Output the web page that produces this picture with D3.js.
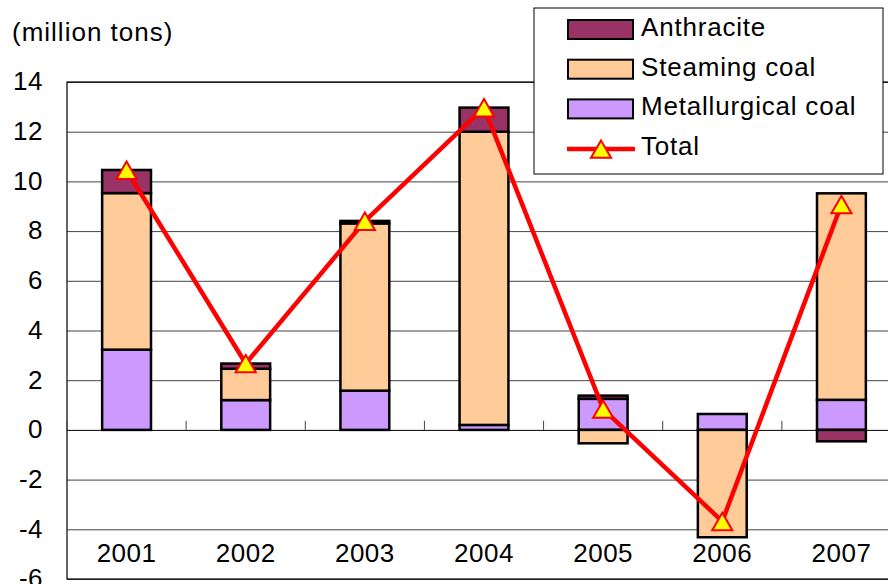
<!DOCTYPE html>
<html>
<head>
<meta charset="utf-8">
<script src="https://cdn.jsdelivr.net/npm/d3@7"></script>
<style>
  body { margin: 0; background: #fff; }
  text { font-family: Arial, "Liberation Sans", sans-serif; }
</style>
</head>
<body>
<div id="chart"></div>
<script>
var years = ["2001", "2002", "2003", "2004", "2005", "2006", "2007"];
var anthracite = [0.93, 0.21, 0.1, 0.97, 0.13, 0, -0.46];
var steaming = [6.3, 1.26, 6.73, 11.8, -0.54, -4.32, 8.31];
var metallurgical = [3.23, 1.2, 1.58, 0.2, 1.25, 0.64, 1.21];
var total = [10.45, 2.67, 8.4, 12.97, 0.84, -3.68, 9.07];
var yTicks = [-6, -4, -2, 0, 2, 4, 6, 8, 10, 12, 14];

var keys = ["Metallurgical coal", "Steaming coal", "Anthracite"];
var colors = {
    "Anthracite": "#993366",
    "Steaming coal": "#FFCC99",
    "Metallurgical coal": "#CC99FF"
};

var width = 888, height = 584;
var plotLeft = 67, plotRight = 901, plotTop = 82, plotBottom = 579;

var svg = d3.select("#chart")
    .append("svg")
    .attr("width", width)
    .attr("height", height);

var x = d3.scaleBand()
    .domain(years)
    .range([plotLeft, plotRight])
    .paddingInner(0.59)
    .paddingOuter(0.295);

var y = d3.scaleLinear()
    .domain([-6, 14])
    .range([plotBottom, plotTop]);

// table for the stack
var rows = years.map(function(yr, i) {
    return {
        year: yr,
        "Anthracite": anthracite[i],
        "Steaming coal": steaming[i],
        "Metallurgical coal": metallurgical[i]
    };
});

var series = d3.stack()
    .keys(keys)
    .offset(d3.stackOffsetDiverging)(rows);

// y axis with grid lines
var yAxis = svg.append("g")
    .attr("transform", "translate(" + plotLeft + ",0)")
    .call(d3.axisLeft(y)
        .tickValues(yTicks)
        .tickFormat(function(d) { return String(d); })
        .tickSize(-(plotRight - plotLeft))
        .tickPadding(24));

yAxis.select(".domain").remove();
yAxis.selectAll(".tick line")
    .attr("stroke", function(d) { return d === 0 ? "#000" : "#444"; })
    .attr("stroke-width", 1);
yAxis.selectAll(".tick text")
    .attr("font-size", 26)
    .attr("letter-spacing", 0.5)
    .attr("fill", "#000")
    .attr("dy", "0.3em");

// plot border
svg.append("rect")
    .attr("x", plotLeft)
    .attr("y", plotTop)
    .attr("width", plotRight - plotLeft)
    .attr("height", plotBottom - plotTop)
    .attr("fill", "none")
    .attr("stroke", "#000")
    .attr("stroke-width", 1.2);

// category tick marks on the zero line
svg.append("g")
    .selectAll("line")
    .data(years)
    .enter()
    .append("line")
    .attr("x1", function(d) { return x(d) + x.bandwidth() / 2 - x.step() / 2; })
    .attr("x2", function(d) { return x(d) + x.bandwidth() / 2 - x.step() / 2; })
    .attr("y1", y(0))
    .attr("y2", y(0) - 9)
    .attr("stroke", "#444");

// stacked bars
svg.append("g")
    .selectAll("g")
    .data(series)
    .enter()
    .append("g")
    .attr("fill", function(d) { return colors[d.key]; })
    .selectAll("rect")
    .data(function(d) { return d; })
    .enter()
    .append("rect")
    .attr("x", function(d) { return x(d.data.year); })
    .attr("y", function(d) { return y(Math.max(d[0], d[1])); })
    .attr("width", x.bandwidth())
    .attr("height", function(d) { return Math.abs(y(d[0]) - y(d[1])); })
    .attr("stroke", "#000")
    .attr("stroke-width", 2.5);

// total line
var line = d3.line()
    .x(function(d, i) { return x(years[i]) + x.bandwidth() / 2; })
    .y(function(d) { return y(d); });

svg.append("path")
    .datum(total)
    .attr("d", line)
    .attr("fill", "none")
    .attr("stroke", "#FF0000")
    .attr("stroke-width", 4.5)
    .attr("stroke-linejoin", "round");

var tri = d3.symbol().type(d3.symbolTriangle).size(175);

svg.append("g")
    .selectAll("path")
    .data(total)
    .enter()
    .append("path")
    .attr("d", tri)
    .attr("transform", function(d, i) {
        return "translate(" + (x(years[i]) + x.bandwidth() / 2) + "," + (y(d) + 3) + ")";
    })
    .attr("fill", "#FFFF00")
    .attr("stroke", "#FF0000")
    .attr("stroke-width", 2);

// year labels
svg.append("g")
    .selectAll("text")
    .data(years)
    .enter()
    .append("text")
    .attr("x", function(d) { return x(d) + x.bandwidth() / 2; })
    .attr("y", 562)
    .attr("text-anchor", "middle")
    .attr("font-size", 26)
    .attr("letter-spacing", 0.5)
    .text(function(d) { return d; });

// unit label
svg.append("text")
    .attr("x", 12)
    .attr("y", 41)
    .attr("font-size", 26)
    .attr("letter-spacing", 1)
    .text("(million tons)");

// legend
var legend = svg.append("g");

legend.append("rect")
    .attr("x", 534)
    .attr("y", 8)
    .attr("width", 349)
    .attr("height", 166)
    .attr("fill", "#fff")
    .attr("stroke", "#000")
    .attr("stroke-width", 1);

var legendKeys = ["Anthracite", "Steaming coal", "Metallurgical coal"];

legendKeys.forEach(function(k, i) {
    legend.append("rect")
        .attr("x", 568)
        .attr("y", 20 + i * 39.7)
        .attr("width", 65)
        .attr("height", 19)
        .attr("fill", colors[k])
        .attr("stroke", "#000")
        .attr("stroke-width", 2);
    legend.append("text")
        .attr("x", 641)
        .attr("y", 36 + i * 39.7)
        .attr("font-size", 26)
        .attr("letter-spacing", 0.8)
        .text(k);
});

legend.append("line")
    .attr("x1", 567)
    .attr("x2", 635)
    .attr("y1", 149)
    .attr("y2", 149)
    .attr("stroke", "#FF0000")
    .attr("stroke-width", 4.5);

legend.append("path")
    .attr("d", tri)
    .attr("transform", "translate(601,152)")
    .attr("fill", "#FFFF00")
    .attr("stroke", "#FF0000")
    .attr("stroke-width", 2);

legend.append("text")
    .attr("x", 641)
    .attr("y", 155)
    .attr("font-size", 26)
    .attr("letter-spacing", 0.8)
    .text("Total");
</script>
</body>
</html>
